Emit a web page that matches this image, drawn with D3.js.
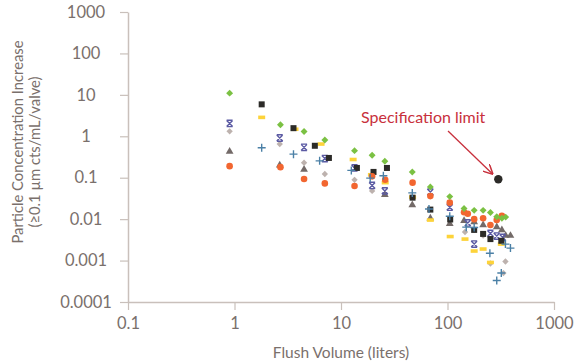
<!DOCTYPE html>
<html>
<head>
<meta charset="utf-8">
<script src="https://cdn.jsdelivr.net/npm/d3@7"></script>
<style>
  body { margin: 0; background: #fff; }
  text { font-family: Lato, "Open Sans", sans-serif; fill: #7a706c; }
</style>
</head>
<body>
<div id="chart"></div>
<script>
var width = 575, height = 362;
var xTicks = [0.1, 1, 10, 100, 1000];
var xTickLabels = ["0.1", "1", "10", "100", "1000"];
var yTicks = [0.0001, 0.001, 0.01, 0.1, 1, 10, 100, 1000];
var yTickLabels = ["0.0001", "0.001", "0.01", "0.1", "1", "10", "100", "1000"];

// each series: [flush volume, concentration]
var greenDiamond = [[0.9,11],[2.7,1.9],[4.5,1.3],[7.05,0.81],[13.4,0.45],[19.6,0.35],[25.8,0.25],[46.7,0.138],[69,0.06],[105,0.035],[143,0.018],[178,0.0163],[216,0.0163],[253,0.0145],[290,0.0114],[324,0.0105],[352,0.0112]];
var blackSquare = [[1.8,5.9],[3.58,1.57],[5.68,0.59],[7.7,0.30],[14.1,0.172],[20.2,0.138],[27,0.172],[47,0.033],[69,0.017],[106,0.0098],[178,0.0055],[216,0.0044],[253,0.0033],[320,0.003]];
var yellowDash = [[1.8,2.86],[3.7,1.48],[6.5,0.65],[13,0.275],[19.3,0.118],[26,0.076],[47,0.034],[69,0.0095],[106,0.0038],[146,0.0033],[178,0.0017],[216,0.0019],[253,0.0009],[320,0.0025]];
var purpleX = [[0.9,2.04],[2.66,0.91],[4.5,0.54],[7.05,0.29],[13.4,0.172],[19.6,0.065],[25.8,0.048],[69,0.045],[105,0.0194],[155,0.0081],[178,0.0025],[253,0.0045],[290,0.0039],[330,0.0036]];
var greyDiamond = [[0.9,1.32],[2.66,0.65],[4.5,0.23],[7.05,0.123],[13.4,0.089],[19.6,0.048],[146,0.0049],[216,0.004],[253,0.00085],[350,0.00095],[335,0.0005]];
var darkTriangle = [[0.9,0.43],[2.66,0.2],[4.5,0.157],[25.8,0.039],[46.7,0.022],[69,0.0105],[105,0.0077],[143,0.0091],[178,0.0085],[216,0.0072],[290,0.0065],[324,0.0055],[352,0.004],[390,0.004]];
var orangeCircle = [[0.9,0.19],[2.7,0.18],[4.5,0.093],[7.05,0.073],[13.4,0.063],[19.6,0.108],[26,0.089],[47,0.076],[69,0.036],[105,0.025],[143,0.0147],[155,0.0135],[178,0.01],[216,0.0105],[253,0.0072],[290,0.0095],[324,0.012]];
var bluePlus = [[1.8,0.53],[3.58,0.37],[6.3,0.255],[12.5,0.15],[18.8,0.098],[25,0.112],[46.7,0.043],[67,0.0175],[105,0.0117],[150,0.0064],[178,0.0063],[250,0.0015],[290,0.00033],[320,0.0005],[350,0.0025],[390,0.002]];
var specLimit = [[300, 0.1]];

var svg = d3.select("#chart").append("svg")
    .attr("width", width)
    .attr("height", height);

var xScale = d3.scaleLog().domain([0.1, 1000]).range([128, 554]);
var yScale = d3.scaleLog().domain([0.0001, 1000]).range([302, 12]);

var axisColor = "#c9c0bb";

// x axis
var xAxis = svg.append("g")
    .attr("transform", "translate(0," + yScale(0.0001) + ")")
    .call(d3.axisBottom(xScale).tickValues(xTicks).tickFormat(function(d, i){ return xTickLabels[i]; }).tickSize(8).tickSizeOuter(0));
xAxis.select(".domain").attr("stroke", axisColor).attr("stroke-width", 1.5);
xAxis.selectAll(".tick line").attr("stroke", axisColor).attr("stroke-width", 1.2);
xAxis.selectAll(".tick text").attr("font-size", 16.5).attr("fill", "#7a706c").attr("dy", "0.95em")
    .style("font-family", "Lato, sans-serif");

// y axis
var yAxis = svg.append("g")
    .attr("transform", "translate(" + xScale(0.1) + ",0)")
    .call(d3.axisLeft(yScale).tickValues(yTicks).tickFormat(function(d, i){ return yTickLabels[i]; }).tickSize(8).tickSizeOuter(0));
yAxis.select(".domain").attr("stroke", axisColor).attr("stroke-width", 1.5);
yAxis.selectAll(".tick line").attr("stroke", axisColor).attr("stroke-width", 1.2);
yAxis.selectAll(".tick text").attr("font-size", 16.5).attr("fill", "#7a706c")
    .attr("text-anchor", "middle").attr("x", 86 - xScale(0.1))
    .style("font-family", "Lato, sans-serif");

// titles
svg.append("text")
    .attr("x", 341).attr("y", 358)
    .attr("text-anchor", "middle")
    .attr("font-size", 15.5)
    .text("Flush Volume (liters)");
svg.append("text")
    .attr("transform", "translate(23,142) rotate(-90)")
    .attr("text-anchor", "middle")
    .attr("font-size", 14.8)
    .text("Particle Concentration Increase");
svg.append("text")
    .attr("transform", "translate(40,152) rotate(-90)")
    .attr("text-anchor", "middle")
    .attr("font-size", 14.8)
    .text("(≥0.1 µm cts/mL/valve)");

function px(d){ return xScale(d[0]); }
function py(d){ return yScale(d[1]); }
function place(d){ return "translate(" + px(d) + "," + py(d) + ")"; }
function placeRot(d){ return place(d) + " rotate(45)"; }

var pts = svg.append("g");

pts.selectAll(".tri").data(darkTriangle).enter().append("path")
    .attr("transform", place)
    .attr("d", d3.symbol().type(d3.symbolTriangle).size(26))
    .attr("fill", "#736a68");

pts.selectAll(".gd").data(greyDiamond).enter().append("path")
    .attr("transform", placeRot)
    .attr("d", d3.symbol().type(d3.symbolSquare).size(20))
    .attr("fill", "#bdb2ae");

pts.selectAll(".px").data(purpleX).enter().append("path")
    .attr("transform", place)
    .attr("d", "M-3,-3L3,3M3,-3L-3,3M-3,-3.2H3M-3,3.2H3")
    .attr("stroke", "#5b5aa3")
    .attr("stroke-width", 1.4)
    .attr("fill", "none");

pts.selectAll(".yd").data(yellowDash).enter().append("rect")
    .attr("x", function(d){ return px(d) - 3.5; })
    .attr("y", function(d){ return py(d) - 1.8; })
    .attr("width", 7).attr("height", 3.6)
    .attr("fill", "#fdd33a");

pts.selectAll(".bs").data(blackSquare).enter().append("rect")
    .attr("x", function(d){ return px(d) - 3; })
    .attr("y", function(d){ return py(d) - 3; })
    .attr("width", 6).attr("height", 6)
    .attr("fill", "#2c2b28");

pts.selectAll(".oc").data(orangeCircle).enter().append("circle")
    .attr("cx", px).attr("cy", py).attr("r", 3.3)
    .attr("fill", "#f26630");

pts.selectAll(".gr").data(greenDiamond).enter().append("path")
    .attr("transform", placeRot)
    .attr("d", d3.symbol().type(d3.symbolSquare).size(24))
    .attr("fill", "#7bc143");

pts.selectAll(".bp").data(bluePlus).enter().append("path")
    .attr("transform", place)
    .attr("d", "M-4,0H4M0,-4V4")
    .attr("stroke", "#4b80a6")
    .attr("stroke-width", 1.4);

// specification limit
svg.append("defs").append("marker")
    .attr("id", "arrow")
    .attr("viewBox", "0 0 10 10")
    .attr("refX", 9).attr("refY", 5)
    .attr("markerWidth", 10).attr("markerHeight", 10)
    .attr("markerUnits", "userSpaceOnUse")
    .attr("orient", "auto")
    .append("path")
    .attr("d", "M0,0L10,5L0,10")
    .attr("fill", "none")
    .attr("stroke", "#c8303c")
    .attr("stroke-width", 1.5);

svg.selectAll(".spec").data(specLimit).enter().append("circle")
    .attr("cx", px).attr("cy", function(d){ return py(d) + 1.5; }).attr("r", 4.2)
    .attr("fill", "#2c2b28");

svg.append("line")
    .attr("x1", 448).attr("y1", 131)
    .attr("x2", xScale(specLimit[0][0]) - 6).attr("y2", yScale(specLimit[0][1]) - 4)
    .attr("stroke", "#c8303c").attr("stroke-width", 1.3)
    .attr("marker-end", "url(#arrow)");

svg.append("text")
    .attr("x", 361).attr("y", 123)
    .attr("font-size", 16)
    .style("fill", "#c8303c")
    .text("Specification limit");
</script>
</body>
</html>
